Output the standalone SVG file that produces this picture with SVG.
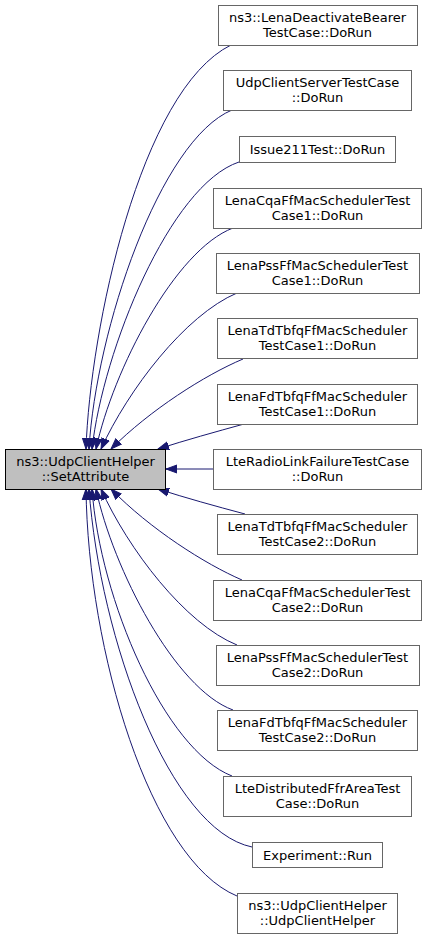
<svg xmlns="http://www.w3.org/2000/svg" width="427" height="939" viewBox="0 0 427 939">
<style>
.n rect{fill:#ffffff;stroke:#666666;stroke-width:1}
.m rect{fill:#bfbfbf;stroke:#000000;stroke-width:1}
text{font-family:"DejaVu Sans","Liberation Sans",sans-serif;font-size:13px;fill:#000;text-anchor:middle}
.e path{fill:none;stroke:#191970;stroke-width:1;marker-end:url(#ah)}
</style>
<defs>
<marker id="ah" markerUnits="userSpaceOnUse" markerWidth="12" markerHeight="10" viewBox="0 -5 12 10" refX="11" refY="0" orient="auto">
<path d="M0,-4 L11,0 L0,4 z" fill="#191970" stroke="#191970" stroke-width="1"/>
</marker>
</defs>
<rect width="427" height="939" fill="#ffffff"/>
<g class="e" id="edges">
<path d="M231,45 C140,90 90,330 86,449"/>
<path d="M232,110 C160,140 96,330 89,449"/>
<path d="M239,162 C170,185 103,350 92,449"/>
<path d="M233,228 C175,250 113,370 96,449"/>
<path d="M237,293 C185,315 128,390 101,449"/>
<path d="M243,359 C205,375 150,410 111,449"/>
<path d="M244,424 C215,432 186,440 158,449"/>
<path d="M213,469 L166,469"/>
<path d="M245,514 C215,506 186,498 158,489"/>
<path d="M242,580 C205,564 150,529 111,489"/>
<path d="M237,645 C185,624 128,549 101,489"/>
<path d="M233,710 C175,689 113,569 96,489"/>
<path d="M232,776 C165,750 100,600 92,489"/>
<path d="M252,847 C170,830 100,640 89,489"/>
<path d="M237,896 C150,860 88,650 86,489"/>
</g>
<g class="m" id="main"><rect x="5.5" y="449.5" width="160" height="40"/><text x="85.5" y="466">ns3::UdpClientHelper</text><text x="85.5" y="480.5">::SetAttribute</text></g>
<g class="n" id="n1"><rect x="218.5" y="5.5" width="199" height="40"/><text x="317.5" y="22">ns3::LenaDeactivateBearer</text><text x="317.5" y="36.5">TestCase::DoRun</text></g>
<g class="n" id="n2"><rect x="223.5" y="70.5" width="188" height="40"/><text x="317.5" y="87">UdpClientServerTestCase</text><text x="317.5" y="101.5">::DoRun</text></g>
<g class="n" id="n3"><rect x="239.5" y="136.5" width="156" height="26"/><text x="317.5" y="154">Issue211Test::DoRun</text></g>
<g class="n" id="n4"><rect x="213.5" y="188.5" width="208" height="40"/><text x="317.5" y="205">LenaCqaFfMacSchedulerTest</text><text x="317.5" y="219.5">Case1::DoRun</text></g>
<g class="n" id="n5"><rect x="216.5" y="253.5" width="203" height="40"/><text x="317.5" y="270">LenaPssFfMacSchedulerTest</text><text x="317.5" y="284.5">Case1::DoRun</text></g>
<g class="n" id="n6"><rect x="217.5" y="318.5" width="200" height="40"/><text x="317.5" y="335">LenaTdTbfqFfMacScheduler</text><text x="317.5" y="349.5">TestCase1::DoRun</text></g>
<g class="n" id="n7"><rect x="217.5" y="384.5" width="200" height="40"/><text x="317.5" y="401">LenaFdTbfqFfMacScheduler</text><text x="317.5" y="415.5">TestCase1::DoRun</text></g>
<g class="n" id="n8"><rect x="213.5" y="449.5" width="208" height="40"/><text x="317.5" y="466">LteRadioLinkFailureTestCase</text><text x="317.5" y="480.5">::DoRun</text></g>
<g class="n" id="n9"><rect x="217.5" y="514.5" width="200" height="40"/><text x="317.5" y="531">LenaTdTbfqFfMacScheduler</text><text x="317.5" y="545.5">TestCase2::DoRun</text></g>
<g class="n" id="n10"><rect x="213.5" y="580.5" width="208" height="40"/><text x="317.5" y="597">LenaCqaFfMacSchedulerTest</text><text x="317.5" y="611.5">Case2::DoRun</text></g>
<g class="n" id="n11"><rect x="216.5" y="645.5" width="203" height="40"/><text x="317.5" y="662">LenaPssFfMacSchedulerTest</text><text x="317.5" y="676.5">Case2::DoRun</text></g>
<g class="n" id="n12"><rect x="217.5" y="710.5" width="200" height="40"/><text x="317.5" y="727">LenaFdTbfqFfMacScheduler</text><text x="317.5" y="741.5">TestCase2::DoRun</text></g>
<g class="n" id="n13"><rect x="223.5" y="776.5" width="188" height="40"/><text x="317.5" y="793">LteDistributedFfrAreaTest</text><text x="317.5" y="807.5">Case::DoRun</text></g>
<g class="n" id="n14"><rect x="252.5" y="842.5" width="130" height="25"/><text x="317.5" y="859.5">Experiment::Run</text></g>
<g class="n" id="n15"><rect x="237.5" y="893.5" width="160" height="40"/><text x="317.5" y="910">ns3::UdpClientHelper</text><text x="317.5" y="924.5">::UdpClientHelper</text></g>
</svg>
